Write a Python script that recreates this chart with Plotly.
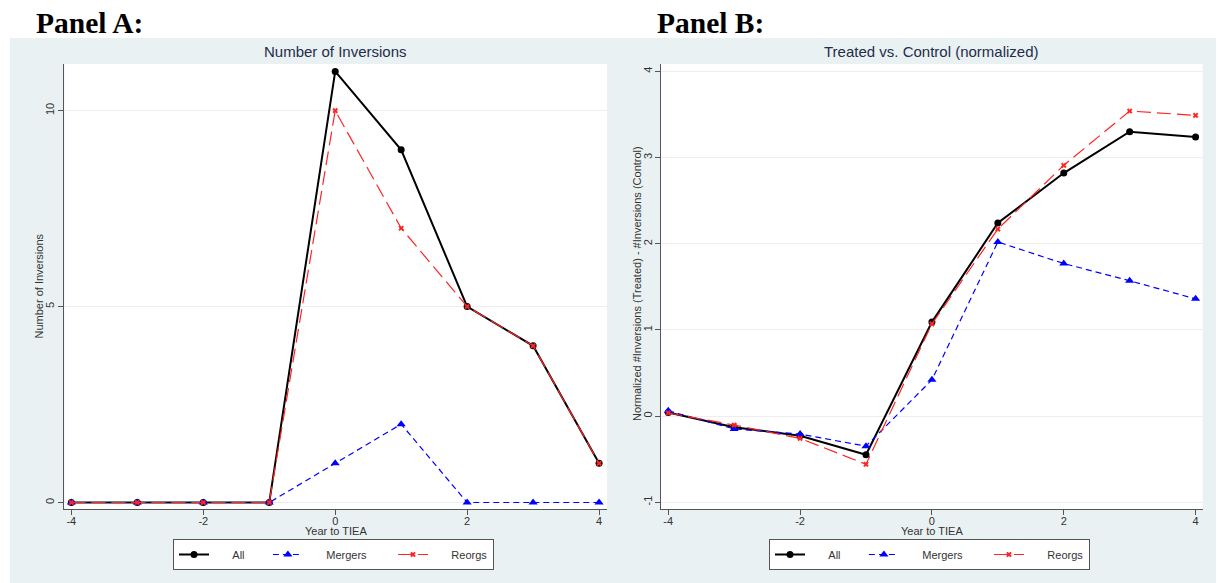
import plotly.graph_objects as go

# ---------------- data ----------------
years = [-4, -3, -2, -1, 0, 1, 2, 3, 4]

# Panel A: Number of Inversions
a_all = [0, 0, 0, 0, 11, 9, 5, 4, 1]
a_mergers = [0, 0, 0, 0, 1, 2, 0, 0, 0]
a_reorgs = [0, 0, 0, 0, 10, 7, 5, 4, 1]

# Panel B: Treated vs. Control (normalized)
b_all = [0.04, -0.13, -0.23, -0.45, 1.09, 2.24, 2.82, 3.30, 3.24]
b_mergers = [0.06, -0.15, -0.21, -0.35, 0.42, 2.02, 1.77, 1.57, 1.36]
b_reorgs = [0.035, -0.105, -0.26, -0.56, 1.07, 2.17, 2.91, 3.54, 3.49]

x_ticks = [-4, -2, 0, 2, 4]
x_ticktext = ["-4", "-2", "0", "2", "4"]
a_y_ticks = [0, 5, 10]
a_y_ticktext = ["0", "5", "10"]
b_y_ticks = [-1, 0, 1, 2, 3, 4]
b_y_ticktext = ["-1", "0", "1", "2", "3", "4"]

series_names = ["All", "Mergers", "Reorgs"]

# ---------------- layout helpers ----------------
OFF = 8  # browser body margin
W, H = 1224 - OFF, 583 - OFF
def px(x):
    return (x - OFF) / W
def py(y):
    return 1 - (y - OFF) / H

BG = "#EAF1F3"
AXC = "#555555"
TXT = "#333333"
TITLEC = "#1E2D4A"
GRID = "#EEEEEE"
FONT = "Liberation Sans, Arial, sans-serif"
NB = "\u00a0"

styles = {
    "All": dict(line=dict(color="black", width=2, dash="solid"),
                marker=dict(symbol="circle", size=7, color="black")),
    "Mergers": dict(line=dict(color="#0000FF", width=1.2, dash="6px,4px"),
                    marker=dict(symbol="triangle-up", size=8, color="#0000FF")),
    "Reorgs": dict(line=dict(color="#FF2424", width=1.2, dash="14px,6px"),
                   marker=dict(symbol="x", size=5, color="#FF2424")),
}
legend_labels = {
    "All": NB * 6 + "All" + NB * 6,
    "Mergers": NB * 6 + "Mergers" + NB * 7,
    "Reorgs": NB * 6 + "Reorgs",
}

fig = go.Figure()

for name, vals in zip(series_names, [a_all, a_mergers, a_reorgs]):
    fig.add_trace(go.Scatter(x=years, y=vals, mode="lines+markers", name=legend_labels[name],
                             xaxis="x", yaxis="y", legend="legend",
                             **styles[name]))
for name, vals in zip(series_names, [b_all, b_mergers, b_reorgs]):
    fig.add_trace(go.Scatter(x=years, y=vals, mode="lines+markers", name=legend_labels[name],
                             xaxis="x2", yaxis="y2", legend="legend2",
                             **styles[name]))

axis_common = dict(showline=True, linecolor=AXC, linewidth=1, ticks="outside",
                   ticklen=5, tickcolor=AXC, tickfont=dict(family=FONT, size=11, color=TXT),
                   zeroline=False, automargin=False, mirror=False)

ydom = [py(509.3), py(64)]
fig.update_layout(
    width=W, height=H,
    margin=dict(l=0, r=0, t=0, b=0),
    paper_bgcolor=BG, plot_bgcolor="white",
    template="none",
    font=dict(family=FONT, size=11, color=TXT),
    xaxis=dict(domain=[px(64.4), px(607)], range=[-4.105, 4.12],
               tickvals=x_ticks, ticktext=x_ticktext, ticklabelstandoff=-4,
               showgrid=False, anchor="y", **axis_common),
    yaxis=dict(domain=ydom, range=[-0.173, 11.19], tickvals=a_y_ticks, ticktext=a_y_ticktext,
               tickangle=-90, showgrid=True, gridcolor=GRID, gridwidth=1,
               anchor="x", **axis_common),
    xaxis2=dict(domain=[px(661), px(1202.7)], range=[-4.11, 4.108],
                tickvals=x_ticks, ticktext=x_ticktext, ticklabelstandoff=-4,
                showgrid=False, anchor="y2", **axis_common),
    yaxis2=dict(domain=ydom, range=[-1.083, 4.086], tickvals=b_y_ticks, ticktext=b_y_ticktext,
                tickangle=-90, showgrid=True, gridcolor=GRID, gridwidth=1,
                ticklabelstandoff=-1, anchor="x2", **axis_common),
    legend=dict(x=px(173), y=py(539), xanchor="left", yanchor="top",
                orientation="h", bgcolor="white", bordercolor=AXC, borderwidth=1,
                font=dict(family=FONT, size=11, color=TXT)),
    legend2=dict(x=px(769), y=py(539), xanchor="left", yanchor="top",
                 orientation="h", bgcolor="white", bordercolor=AXC, borderwidth=1,
                 font=dict(family=FONT, size=11, color=TXT)),
    showlegend=True,
)

# white strips outside the grey panel area (top and left)
fig.add_shape(type="rect", xref="paper", yref="paper", x0=-0.01, x1=1.01,
              y0=py(38), y1=1.01, fillcolor="white", line=dict(width=0), layer="below")
fig.add_shape(type="rect", xref="paper", yref="paper", x0=-0.01, x1=px(10),
              y0=-0.01, y1=1.01, fillcolor="white", line=dict(width=0), layer="below")

ann = []
# panel labels
ann.append(dict(text="<b>Panel A:</b>", x=px(34), y=py(23), xanchor="left", yanchor="middle",
                font=dict(family="Liberation Serif, Times New Roman, serif", size=29.5, color="black")))
ann.append(dict(text="<b>Panel B:</b>", x=px(655), y=py(23), xanchor="left", yanchor="middle",
                font=dict(family="Liberation Serif, Times New Roman, serif", size=29.5, color="black")))
# chart titles
ann.append(dict(text="Number of Inversions", x=px((64.4 + 607) / 2), y=py(51),
                xanchor="center", yanchor="middle", font=dict(family=FONT, size=15, color=TITLEC)))
ann.append(dict(text="Treated vs. Control (normalized)", x=px((661 + 1202.7) / 2), y=py(51),
                xanchor="center", yanchor="middle", font=dict(family=FONT, size=15, color=TITLEC)))
# axis titles
ann.append(dict(text="Year to TIEA", x=px((64.4 + 607) / 2), y=py(531),
                xanchor="center", yanchor="middle", font=dict(family=FONT, size=11, color=TXT)))
ann.append(dict(text="Year to TIEA", x=px((661 + 1202.7) / 2), y=py(531),
                xanchor="center", yanchor="middle", font=dict(family=FONT, size=11, color=TXT)))
ann.append(dict(text="Number of Inversions", x=px(38), y=py(286.5), textangle=-90,
                xanchor="center", yanchor="middle", font=dict(family=FONT, size=11, color=TXT)))
ann.append(dict(text="Normalized #Inversions (Treated) - #Inversions (Control)", x=px(637), y=py(284),
                textangle=-90, xanchor="center", yanchor="middle",
                font=dict(family=FONT, size=11, color=TXT)))
for a in ann:
    a.update(xref="paper", yref="paper", showarrow=False)
fig.update_layout(annotations=ann)

fig.write_html("out.html")
